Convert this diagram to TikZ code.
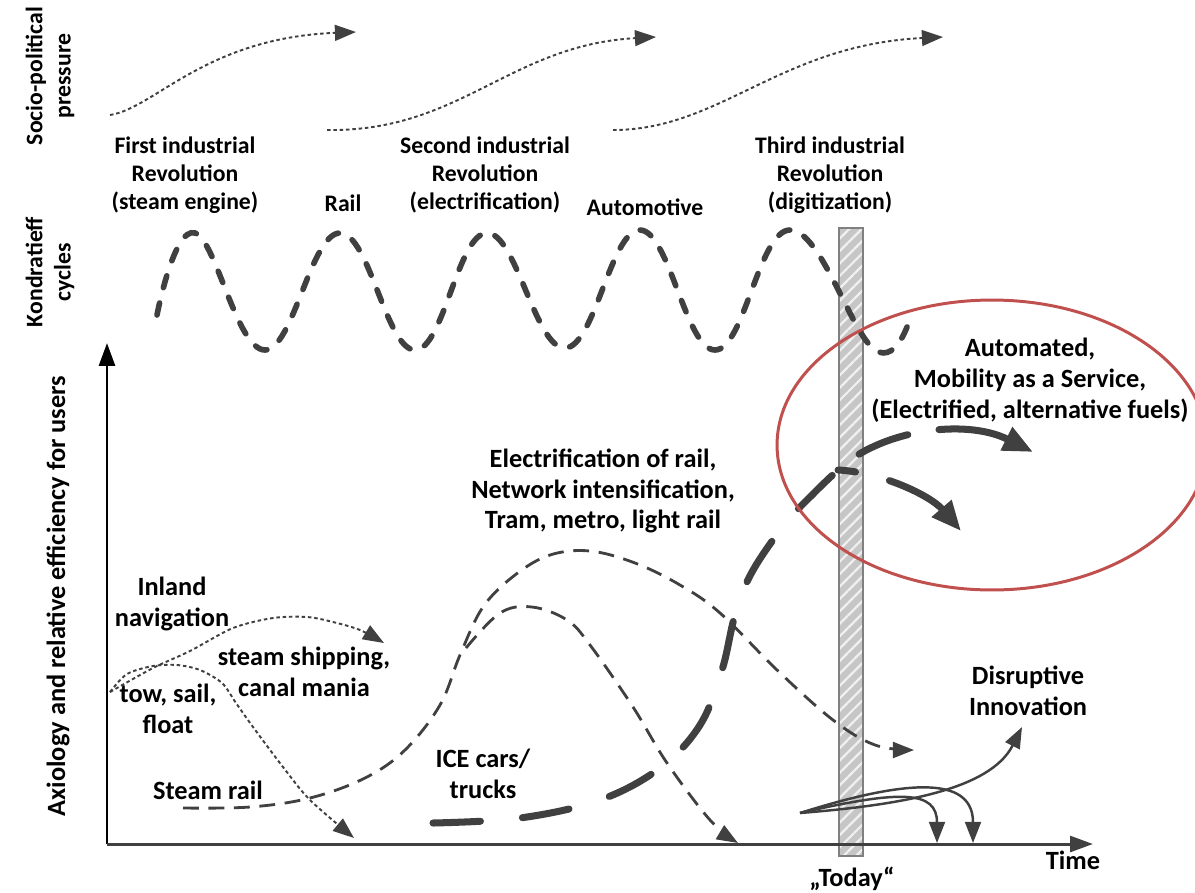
\documentclass[tikz,border=0pt]{standalone}
\usepackage{fontspec}
\setmainfont{Carlito}
\usetikzlibrary{arrows.meta,positioning,patterns.meta}
\definecolor{curvegray}{HTML}{404040}
\definecolor{ellred}{HTML}{C0504D}

\begin{document}
\begin{tikzpicture}[x=0.02cm,y=-0.02cm,
    >={Triangle[length=12pt,width=9pt]},
    lbl/.style={font=\bfseries\fontsize{15}{17.5}\selectfont,align=center,inner sep=0pt},
    toplbl/.style={font=\bfseries\fontsize{13.5}{16}\selectfont,align=center,inner sep=0pt},
    wave/.style={curvegray,line width=3.2pt,line cap=round,dash pattern=on 7pt off 9pt},
    longdash/.style={curvegray,line width=4pt,line cap=round,dash pattern=on 27pt off 24pt},
    middash/.style={curvegray,line width=1.6pt,dash pattern=on 9pt off 5.5pt},
    dots/.style={curvegray,line width=1.1pt,dash pattern=on 2pt off 1.6pt},
    solidarr/.style={curvegray,line width=1.4pt,->},
    arrbig/.style={-{Triangle[length=17pt,width=14pt]}},
    axis/.style={line width=1.7pt,-{Triangle[length=13pt,width=9pt]}},
    todaybar/.style={draw=gray,line width=0.7pt,minimum width=0.48cm,minimum height=12.56cm,inner sep=0pt,
      preaction={fill=gray!45},pattern={Lines[angle=45,distance=5pt,line width=1.3pt]},pattern color=gray!12}]
  \useasboundingbox (0,0) rectangle (1195,892);

  \node[todaybar] (bar) at (851,542) {};

  % socio-political pressure
  \coordinate (sp1s) at (110,115); \coordinate (sp1e) at (356,32);
  \coordinate (sp2s) at (327,130); \coordinate (sp2e) at (656,37);
  \coordinate (sp3s) at (613,130); \coordinate (sp3e) at (943,37);
  \draw[dots,->] (sp1s) .. controls (155,108) and (205,38) .. (sp1e);
  \draw[dots,->] (sp2s) .. controls (460,132) and (510,45) .. (sp2e);
  \draw[dots,->] (sp3s) .. controls (720,130) and (780,45) .. (sp3e);

  % kondratieff waves
  \draw[wave] plot[smooth,tension=0.7] coordinates {(157,315) (195,233) (265,350) (340,233) (415,350)
    (487,233) (565,348) (640,230) (715,350) (790,230) (875,350) (912,312)};

  % axes
  \coordinate (O) at (107,844);
  \coordinate (ytip) at (107,343);
  \coordinate (xtip) at (1093,844);
  \draw[axis,black] (O) -- (ytip);
  \draw[axis,curvegray] (O) -- (xtip);

  % inland navigation
  \coordinate (inlandstart) at (110,692);
  \coordinate (shiptip) at (384,643);
  \coordinate (railtip) at (354,838);
  \draw[dots,->] plot[smooth] coordinates {(inlandstart) (153,668) (190,651) (233,628) (273,618)
    (307,617) (333,622) (360,630) (shiptip)};
  \draw[dots,->] plot[smooth] coordinates {(inlandstart) (127,674) (153,666) (177,665) (200,670)
    (222,683) (236,703) (253,727) (283,767) (310,800) (railtip)};

  % steam rail / electrification
  \coordinate (srstart) at (183,808);
  \coordinate (electip) at (914,750);
  \coordinate (branch) at (466,648);
  \coordinate (icetip) at (738,843);
  \draw[middash,->] plot[smooth,tension=0.6] coordinates {(srstart) (250,807) (310,798) (365,778)
    (405,750) (440,705) (460,655) (483,607) (515,575) (550,555) (590,551) (635,563) (680,585)
    (720,613) (777,670) (833,720) (875,745) (electip)};
  \draw[middash,->] plot[smooth,tension=0.6] coordinates {(branch) (500,613) (532,607) (567,620)
    (590,645) (633,707) (667,763) (710,820) (icetip)};

  % ICE cars
  \coordinate (icestart) at (433,823);
  \coordinate (fork) at (838,470);
  \coordinate (maastip) at (1033,452);
  \coordinate (downtip) at (961,531);
  \draw[longdash] plot[smooth,tension=0.6] coordinates {(icestart) (520,818) (600,800) (660,768)
    (700,725) (722,670) (735,615) (752,572) (785,524) (815,492) (fork)};
  \draw[longdash,arrbig,dash pattern=on 30pt off 18pt on 90pt off 15pt,dash phase=138pt]
    (fork) .. controls (880,430) and (965,418) .. (maastip);
  \draw[longdash,arrbig,dash pattern=on 10pt off 20pt on 90pt off 20pt]
    (fork) .. controls (880,472) and (930,495) .. (downtip);

  % disruptive innovation
  \coordinate (dstart) at (800,813);
  \coordinate (d1) at (1022,727);
  \coordinate (d2) at (937,843);
  \coordinate (d3) at (973,843);
  \draw[solidarr] (dstart) .. controls (900,805) and (990,790) .. (d1);
  \draw[solidarr] (dstart) .. controls (900,790) and (937,790) .. (d2);
  \draw[solidarr] (dstart) .. controls (920,775) and (973,780) .. (d3);

  \coordinate (ellc) at (992,445);
  \draw[ellred,line width=1.7pt] (ellc) ellipse [x radius=4.3cm,y radius=2.9cm];

  % labels
  \node[toplbl,rotate=90] (socio) at (50,76) {Socio-political\\pressure};
  \node[toplbl,rotate=90] (kond) at (50,272) {Kondratieff\\cycles};
  \node[lbl,rotate=90] (axio) at (58,596) {Axiology and relative efficiency for users};
  \node[toplbl] (first) at (185,175) {First industrial\\Revolution\\(steam engine)};
  \node[toplbl] (rail) at (343,203) {Rail};
  \node[toplbl] (second) at (485,175) {Second industrial\\Revolution\\(electrification)};
  \node[toplbl] (automotive) at (645,207) {Automotive};
  \node[toplbl] (third) at (830,175) {Third industrial\\Revolution\\(digitization)};
  \node[lbl] (maas) at (1030,380) {Automated,\\Mobility as a Service,\\(Electrified, alternative fuels)};
  \node[lbl] (elec) at (603,491) {Electrification of rail,\\Network intensification,\\Tram, metro, light rail};
  \node[lbl] (inland) at (172,604) {Inland\\navigation};
  \node[lbl] (shipping) at (304,672) {steam shipping,\\canal mania};
  \node[lbl] (tow) at (168,709) {tow, sail,\\float};
  \node[lbl] (steamrail) at (208,790) {Steam rail};
  \node[lbl] (ice) at (483,774) {ICE cars/\\trucks};
  \node[lbl] (disrupt) at (1028,691) {Disruptive\\Innovation};
  \node[lbl] (time) at (1073,860) {Time};
  \node[lbl] (today) at (852,879) {„Today“};
\end{tikzpicture}
\end{document}
